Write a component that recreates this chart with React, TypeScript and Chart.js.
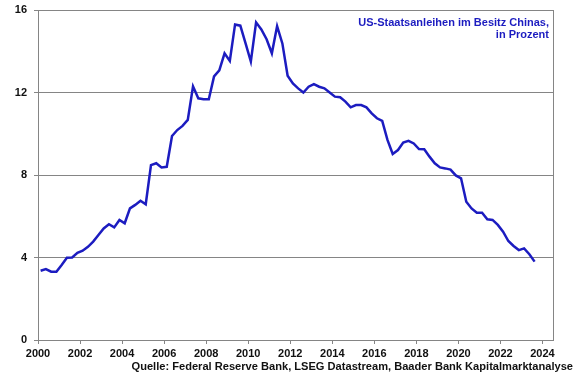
import React, { useEffect, useRef } from "react";
import { Chart, registerables } from "chart.js";

Chart.register(...registerables);

// Quarterly share of US Treasuries held by China, in percent (2000 Q1 .. 2023 Q3)
const firstQuarterPos = 2000.125;
const quarterStep = 0.25;
const chinaShare: number[] = [
  3.36, 3.44, 3.31, 3.31, 3.64, 3.99, 4.0, 4.23, 4.33, 4.52,
  4.77, 5.09, 5.41, 5.61, 5.46, 5.82, 5.66, 6.38, 6.55, 6.75,
  6.58, 8.48, 8.57, 8.37, 8.4, 9.89, 10.18, 10.38, 10.67, 12.3,
  11.72, 11.67, 11.67, 12.78, 13.07, 13.9, 13.53, 15.3, 15.24, 14.38,
  13.5, 15.4, 15.06, 14.58, 13.9, 15.22, 14.38, 12.81, 12.44, 12.2,
  12.0, 12.28, 12.41, 12.28, 12.2, 12.0, 11.8, 11.77, 11.56, 11.28,
  11.39, 11.39, 11.28, 10.99, 10.75, 10.62, 9.7, 9.02, 9.21, 9.57,
  9.66, 9.53, 9.26, 9.25, 8.89, 8.57, 8.37, 8.32, 8.26, 7.98,
  7.84, 6.7, 6.38, 6.17, 6.17, 5.85, 5.82, 5.58, 5.25, 4.8,
  4.56, 4.36, 4.44, 4.16, 3.8,
];
const xTickYears = [2000, 2002, 2004, 2006, 2008, 2010, 2012, 2014, 2016, 2018, 2020, 2022, 2024];
const yTickValues = [0, 4, 8, 12, 16];

const titleLines = ["US-Staatsanleihen im Besitz Chinas,", "in Prozent"];
const sourceText = "Quelle: Federal Reserve Bank, LSEG Datastream, Baader Bank Kapitalmarktanalyse";

const LINE_BLUE = "#1c1cc0";
const GRID = "#858585";
const FONT = "'Liberation Sans', Arial, sans-serif";

const rightBorder = {
  id: "rightBorder",
  afterDraw(chart: any) {
    const { ctx, chartArea } = chart;
    ctx.save();
    ctx.strokeStyle = GRID;
    ctx.lineWidth = 1;
    ctx.beginPath();
    const x = Math.round(chartArea.right) + 0.5;
    ctx.moveTo(x, chartArea.top);
    ctx.lineTo(x, chartArea.bottom);
    ctx.stroke();
    ctx.restore();
  },
};

export default function App() {
  const ref = useRef<HTMLCanvasElement | null>(null);

  useEffect(() => {
    if (!ref.current) return;
    const data = chinaShare.map((v, i) => ({ x: firstQuarterPos + i * quarterStep, y: v }));
    const chart = new Chart(ref.current, {
      type: "line",
      data: {
        datasets: [
          {
            data,
            borderColor: LINE_BLUE,
            borderWidth: 2.5,
            pointRadius: 0,
            tension: 0,
            fill: false,
          },
        ],
      },
      options: {
        animation: false,
        responsive: false,
        maintainAspectRatio: false,
        layout: { padding: { left: 0, top: 10, right: 27, bottom: 0 } },
        plugins: { legend: { display: false }, tooltip: { enabled: false }, title: { display: false } },
        scales: {
          x: {
            type: "linear",
            min: 2000,
            max: 2024.5,
            afterFit: (s: any) => {
              s.height = 35;
            },
            afterBuildTicks: (s: any) => {
              s.ticks = xTickYears.map((v) => ({ value: v }));
            },
            grid: { display: true, drawOnChartArea: false, drawTicks: true, tickLength: 4, color: GRID },
            border: { display: true, color: GRID, width: 1 },
            ticks: {
              autoSkip: false,
              maxRotation: 0,
              padding: 3,
              color: "#111",
              font: { family: FONT, size: 11, weight: "bold" },
              callback: (v: any) => String(v),
            },
          },
          y: {
            min: 0,
            max: 16,
            afterFit: (s: any) => {
              s.width = 38;
              s.paddingTop = 0;
              s.paddingBottom = 0;
            },
            afterBuildTicks: (s: any) => {
              s.ticks = yTickValues.map((v) => ({ value: v }));
            },
            grid: { display: true, drawOnChartArea: true, drawTicks: true, tickLength: 4, color: GRID },
            border: { display: true, color: GRID, width: 1 },
            ticks: {
              padding: 7,
              color: "#111",
              font: { family: FONT, size: 11, weight: "bold" },
              callback: (v: any) => String(v),
            },
          },
        },
      },
      plugins: [rightBorder],
    });
    return () => chart.destroy();
  }, []);

  return (
    <div style={{ position: "fixed", left: 0, top: 0, width: 580, height: 375, background: "#fff" }}>
      <canvas ref={ref} width={580} height={375} style={{ position: "absolute", left: 0, top: 0 }} />
      <div
        style={{
          position: "absolute",
          right: 31,
          top: 16,
          textAlign: "right",
          color: LINE_BLUE,
          fontFamily: FONT,
          fontWeight: "bold",
          fontSize: 11,
          lineHeight: "12px",
        }}
      >
        {titleLines.map((t, i) => (
          <div key={i}>{t}</div>
        ))}
      </div>
      <div
        style={{
          position: "absolute",
          right: 7,
          top: 359,
          textAlign: "right",
          whiteSpace: "nowrap",
          color: "#111",
          fontFamily: FONT,
          fontWeight: "bold",
          fontSize: 11.1,
          lineHeight: "14px",
        }}
      >
        {sourceText}
      </div>
    </div>
  );
}
